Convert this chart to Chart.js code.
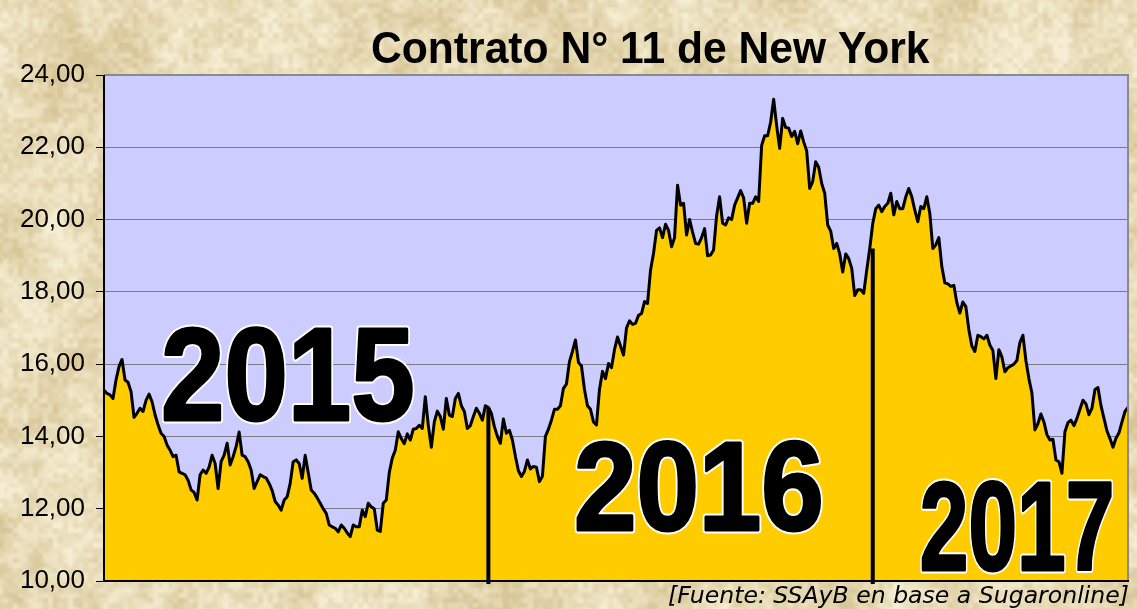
<!DOCTYPE html>
<html>
<head>
<meta charset="utf-8">
<script src="https://cdn.jsdelivr.net/npm/chart.js@4.4.1/dist/chart.umd.min.js"></script>
<style>
html,body{margin:0;padding:0;background:#E6D8B0;}
body{width:1137px;height:609px;overflow:hidden;}
#wrap{position:relative;width:1137px;height:609px;}
#bg,#c{position:absolute;left:0;top:0;display:block;}
</style>
</head>
<body>
<div id="wrap"><canvas id="bg" width="1137" height="609"></canvas><canvas id="c" width="1137" height="609"></canvas></div>
<script>
// ---------- data ----------
const years = ['2015', '2016', '2017'];

const prices2015 = [
  15.28,15.19,15.15,15.05,15.56,15.93,16.13,15.56,15.5,15.24,
  14.53,14.64,14.78,14.69,15.0,15.17,14.96,14.6,14.32,14.09,
  14.0,13.76,13.62,13.44,13.48,13.02,12.98,12.94,12.79,12.52,
  12.45,12.24,12.94,13.07,12.98,13.15,13.48,13.25,12.56,13.3,
  13.48,13.81,13.21,13.44,13.72,14.12,13.48,13.44,13.3,13.07,
  12.56,12.75,12.94,12.89,12.85,12.7,12.5,12.2,12.1,11.96,
  12.24,12.33,12.7,13.3,13.35,13.25,12.84,13.48,13.0,12.52,
  12.43,12.3,12.15,12.0,11.87,11.55,11.5,11.46,11.36,11.55,
  11.46,11.33,11.23,11.55,11.5,11.5,11.96,11.78,12.15,12.05,
  12.0,11.41,11.37,12.15,12.24,13.0,13.4,13.62,14.13,13.94,
  13.8,14.07,13.9,14.2,14.22,14.31,14.22,15.1,14.3,13.7,
  14.4,14.7,14.55,14.2,15.05,14.59,14.55,15.05,15.19,14.85,
  14.69,14.22,14.3,14.55,14.78,14.64,14.45,14.85
];

const prices2016 = [
  14.8,14.64,14.27,14.0,13.81,14.48,14.09,14.17,13.9,13.45,
  13.05,12.89,13.03,13.35,13.1,13.17,13.15,12.75,12.9,14.0,
  14.2,14.45,14.75,14.75,14.85,15.33,15.45,16.07,16.35,16.67,
  16.05,15.95,15.3,14.85,14.75,14.4,14.32,15.3,15.8,15.6,
  16.02,15.9,16.4,16.75,16.5,16.25,17.0,17.2,17.1,17.13,
  17.35,17.4,17.73,17.68,18.6,19.07,19.7,19.77,19.5,19.87,
  19.7,19.25,19.5,20.95,20.4,20.45,19.57,20.0,19.65,19.34,
  19.32,19.5,19.75,19.0,19.02,19.16,20.1,20.63,19.9,19.85,
  20.05,20.0,20.4,20.6,20.8,20.6,19.9,20.45,20.45,20.63,
  20.5,22.05,22.32,22.32,22.7,23.33,22.6,21.97,22.8,22.55,
  22.53,22.3,22.44,22.1,22.45,22.15,21.9,20.86,21.05,21.6,
  21.45,21.0,20.73,19.85,19.68,19.2,19.34,19.05,18.55,19.05,
  18.92,18.65,17.9,18.06,18.06,17.96,18.6,19.2
];

const prices2017 = [
  19.89,20.3,20.4,20.22,20.36,20.45,20.73,20.13,20.5,20.3,
  20.3,20.63,20.86,20.63,20.26,19.94,20.36,20.3,20.63,20.17,
  19.2,19.3,19.5,18.7,18.25,18.22,18.15,18.18,17.7,17.41,
  17.72,17.59,16.95,16.5,16.35,16.8,16.76,16.7,16.8,16.53,
  16.38,15.6,16.4,16.2,15.79,15.9,15.95,16.0,16.1,16.6,
  16.8,16.1,15.6,15.2,14.18,14.35,14.62,14.4,14.05,13.9,
  13.92,13.35,13.3,12.98,14.13,14.38,14.45,14.3,14.5,14.75,
  15.0,14.9,14.6,14.78,15.3,15.35,14.85,14.5,14.15,13.94,
  13.7,13.95,14.1,14.4,14.69,14.8
];

const yTickLabels = ['10,00','12,00','14,00','16,00','18,00','20,00','22,00','24,00'];
const chartTitle = 'Contrato N\u00b0 11 de New York';
const sourceNote = '[Fuente: SSAyB en base a Sugaronline]';

// ---------- build series ----------
const yearSeries = [prices2015, prices2016, prices2017];
const categories = [];
const values = [];
const yearStartIndex = [];
yearSeries.forEach((arr, y) => {
  yearStartIndex.push(values.length);
  arr.forEach((v, i) => { categories.push(years[y] + ' #' + (i + 1)); values.push(v); });
});

// ---------- parchment background (deterministic value noise, decoration only) ----------
(function paintParchment() {
  const cv = document.getElementById('bg');
  const g = cv.getContext('2d');
  const W = cv.width, H = cv.height;
  const img = g.createImageData(W, H);
  function hash(x, y, s) {
    let h = (x * 374761393 + y * 668265263 + s * 982451653) | 0;
    h = (h ^ (h >>> 13)) * 1274126177 | 0;
    h = h ^ (h >>> 16);
    return (h >>> 0) / 4294967295;
  }
  function noise(x, y, cell, s) {
    const gx = x / cell, gy = y / cell;
    const x0 = Math.floor(gx), y0 = Math.floor(gy);
    const fx = gx - x0, fy = gy - y0;
    const sx = fx * fx * (3 - 2 * fx), sy = fy * fy * (3 - 2 * fy);
    const a = hash(x0, y0, s), b = hash(x0 + 1, y0, s), c = hash(x0, y0 + 1, s), d = hash(x0 + 1, y0 + 1, s);
    const top = a + (b - a) * sx, bot = c + (d - c) * sx;
    return top + (bot - top) * sy;
  }
  for (let y = 0; y < H; y++) {
    for (let x = 0; x < W; x++) {
      const n = 0.35 * noise(x, y, 60, 1) + 0.3 * noise(x, y, 18, 2) + 0.35 * noise(x, y, 5, 3);
      const t = Math.max(0, Math.min(1, (n - 0.2) / 0.6));
      const i = (y * W + x) * 4;
      img.data[i]     = 216 + t * 30;
      img.data[i + 1] = 198 + t * 40;
      img.data[i + 2] = 152 + t * 60;
      img.data[i + 3] = 255;
    }
  }
  g.putImageData(img, 0, 0);
})();

// ---------- helpers ----------
function drawFitted(ctx, text, font, box, opt) {
  ctx.save();
  ctx.font = font(100);
  let m = ctx.measureText(text);
  const h = m.actualBoundingBoxAscent + m.actualBoundingBoxDescent;
  const size = 100 * (box.bottom - box.top) / h;
  ctx.font = font(size);
  m = ctx.measureText(text);
  const inkW = m.actualBoundingBoxLeft + m.actualBoundingBoxRight;
  const sx = (box.right - box.left) / inkW;
  const baseline = box.top + m.actualBoundingBoxAscent;
  ctx.translate(box.left, baseline);
  ctx.scale(sx, 1);
  ctx.textAlign = 'left';
  ctx.textBaseline = 'alphabetic';
  ctx.lineJoin = 'round';
  const x0 = m.actualBoundingBoxLeft;
  if (opt.stroke) {
    ctx.strokeStyle = opt.stroke;
    ctx.lineWidth = opt.strokeWidth;
    ctx.strokeText(text, x0, 0);
  }
  if (opt.thicken) {
    ctx.strokeStyle = opt.fill;
    ctx.lineWidth = opt.thicken;
    ctx.strokeText(text, x0, 0);
  }
  ctx.fillStyle = opt.fill;
  ctx.fillText(text, x0, 0);
  ctx.restore();
}

function drawWidthFitted(ctx, text, fontStr, left, width, baseline, color) {
  ctx.save();
  ctx.font = fontStr;
  const m = ctx.measureText(text);
  const inkW = m.actualBoundingBoxLeft + m.actualBoundingBoxRight;
  const sx = width / inkW;
  ctx.translate(left, baseline);
  ctx.scale(sx, 1);
  ctx.textAlign = 'left';
  ctx.textBaseline = 'alphabetic';
  ctx.fillStyle = color;
  ctx.fillText(text, m.actualBoundingBoxLeft, 0);
  ctx.restore();
}

// ---------- plugins ----------
const plotBackground = {
  id: 'plotBackground',
  beforeDraw(chart) {
    const { ctx, chartArea: a } = chart;
    ctx.save();
    ctx.fillStyle = '#CCCCFF';
    ctx.fillRect(a.left, a.top, a.right - a.left, a.bottom - a.top);
    ctx.restore();
  }
};

const yearSeparators = {
  id: 'yearSeparators',
  afterDatasetsDraw(chart) {
    const { ctx, chartArea: a, scales } = chart;
    ctx.save();
    ctx.strokeStyle = '#000';
    ctx.lineWidth = 4;
    yearStartIndex.slice(1).forEach(idx => {
      const x = scales.x.getPixelForValue(idx);
      const v = Math.min(values[idx - 1], values[idx]);
      ctx.beginPath();
      ctx.moveTo(x, a.bottom + 3);
      ctx.lineTo(x, scales.y.getPixelForValue(v));
      ctx.stroke();
    });
    // frame
    ctx.lineWidth = 2;
    ctx.strokeStyle = '#8a8a8a';
    ctx.beginPath();
    ctx.moveTo(a.left, a.top);
    ctx.lineTo(a.right, a.top);
    ctx.lineTo(a.right, a.bottom);
    ctx.stroke();
    ctx.strokeStyle = '#000';
    ctx.beginPath();
    ctx.moveTo(a.left, a.top);
    ctx.lineTo(a.left, a.bottom);
    ctx.lineTo(a.right + 1, a.bottom);
    ctx.stroke();
    ctx.restore();
  }
};

const textOverlay = {
  id: 'textOverlay',
  afterDraw(chart) {
    const ctx = chart.ctx;
    const bold = s => 'bold ' + s + 'px "Liberation Sans", Arial, sans-serif';
    // year labels (boxes are the glyph body before thickening)
    const yearBoxes = [
      { left: 164.5, right: 411.5, top: 326.5, bottom: 420.5 },
      { left: 577.5, right: 820.5, top: 440.5, bottom: 529.5 },
      { left: 922.5, right: 1110.5, top: 480.5, bottom: 570.5 }
    ];
    years.forEach((t, i) => drawFitted(ctx, t, bold, yearBoxes[i], { fill: '#000', stroke: '#fff', strokeWidth: 7, thicken: 3 }));
    // title
    drawWidthFitted(ctx, chartTitle, 'bold 44px "Liberation Sans", Arial, sans-serif', 372, 558, 63, '#000');
    // source note
    drawFitted(ctx, sourceNote, s => 'italic ' + s + 'px "DejaVu Sans", Verdana, sans-serif',
      { left: 668, right: 1128, top: 585, bottom: 607 }, { fill: '#000' });
  }
};

// ---------- chart ----------
new Chart(document.getElementById('c'), {
  type: 'line',
  data: {
    labels: categories,
    datasets: [{
      data: values,
      borderColor: '#000',
      borderWidth: 3,
      borderJoinStyle: 'round',
      backgroundColor: '#FFCC00',
      fill: 'start',
      pointRadius: 0,
      pointHoverRadius: 0,
      tension: 0
    }]
  },
  options: {
    responsive: false,
    animation: false,
    events: [],
    layout: { padding: { left: 0, top: 75, right: 9, bottom: 28 } },
    plugins: { legend: { display: false }, title: { display: false }, tooltip: { enabled: false } },
    scales: {
      x: { type: 'category', display: false, offset: false },
      y: {
        min: 10, max: 24,
        afterFit(scale) { scale.width = 104; },
        ticks: {
          stepSize: 2,
          padding: 11,
          color: '#000',
          font: { family: '"Liberation Sans", Arial, sans-serif', size: 26 },
          callback: (v, i) => yTickLabels[i]
        },
        grid: { color: '#7a7a82', lineWidth: 1, tickLength: 8, tickColor: '#000', drawTicks: true },
        border: { display: false }
      }
    }
  },
  plugins: [plotBackground, yearSeparators, textOverlay]
});
</script>
</body>
</html>
